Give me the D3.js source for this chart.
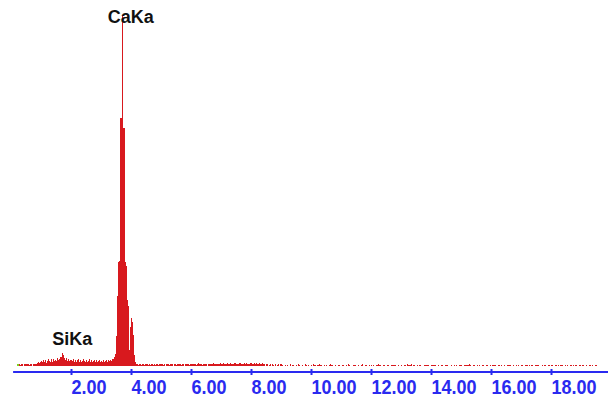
<!DOCTYPE html>
<html>
<head>
<meta charset="utf-8">
<script src="https://cdn.jsdelivr.net/npm/d3@7"></script>
<style>
  html, body { margin: 0; padding: 0; background: #ffffff; }
  svg { display: block; }
</style>
</head>
<body>
<svg id="chart" width="614" height="399"></svg>
<script>
// EDS spectrum: counts per channel, 30 channels per keV (one row per keV, 0–20 keV)
const channelsPerKeV = 30;
const counts = [
  // 0–1 keV
  0,0,0,0,0,0,0,18,20,15,22,18,0,20,22,18,25,20,15,22,18,0,20,25,22,18,35,40,30,45,
  // 1–2 keV (Si Ka)
  50,38,58,42,62,35,55,70,52,40,68,45,75,50,62,48,82,58,72,90,95,135,115,85,60,80,55,72,50,65,
  // 2–3 keV
  62,48,70,45,65,40,58,72,45,62,38,55,75,48,42,65,45,55,68,40,60,45,52,65,42,58,38,50,62,45,
  // 3–4 keV (Ca Ka)
  50,42,58,40,52,60,45,62,50,65,55,68,70,90,120,300,700,1040,1050,2480,2480,3510,2380,2380,1040,1000,660,600,160,390,
  // 4–5 keV (Ca Kb)
  480,440,310,110,40,25,20,15,22,18,12,20,25,15,18,22,20,12,18,15,25,20,15,18,12,22,20,15,18,20,
  // 5–6 keV
  18,22,15,20,0,18,25,20,15,22,18,20,0,22,18,15,25,20,18,22,15,20,18,0,22,20,18,25,15,20,
  // 6–7 keV
  22,18,20,25,18,15,22,28,20,18,22,15,20,25,18,22,0,20,18,25,22,20,28,18,22,20,25,18,22,28,
  // 7–8 keV
  25,20,28,22,18,25,30,22,20,28,25,18,22,30,28,20,25,22,28,32,25,20,22,28,25,30,22,20,25,28,
  // 8–9 keV
  28,22,25,30,22,28,25,20,28,22,25,28,20,22,0,18,20,0,15,18,0,20,15,0,18,0,15,20,0,18,
  // 9–10 keV
  18,15,0,0,15,0,15,0,0,18,0,15,15,0,0,15,0,18,15,0,0,15,0,0,18,15,0,15,0,0,
  // 10–11 keV
  15,0,18,15,15,0,15,15,18,15,15,0,0,15,0,15,0,0,15,18,15,15,0,0,15,0,0,15,15,0,
  // 11–12 keV
  0,15,15,0,0,15,0,18,15,0,0,0,15,15,15,0,0,15,0,0,15,18,0,0,15,15,0,0,15,0,
  // 12–13 keV
  15,0,15,0,0,15,15,18,15,15,0,0,15,15,0,0,15,15,0,0,15,15,15,15,15,0,0,15,0,0,
  // 13–14 keV
  15,0,0,15,15,0,18,15,15,15,18,0,15,15,0,0,15,0,15,15,0,0,0,15,15,15,15,15,0,0,
  // 14–15 keV
  15,15,15,15,15,0,0,15,0,0,15,15,0,0,15,15,15,0,0,0,15,0,0,15,0,15,0,0,15,15,
  // 15–16 keV
  15,0,0,15,15,15,15,15,18,15,0,0,15,15,0,0,15,0,15,0,0,15,15,0,0,15,15,0,0,15,
  // 16–17 keV
  0,15,15,15,15,0,0,15,15,0,15,0,0,15,0,0,15,15,15,15,0,0,15,0,0,15,0,15,0,0,
  // 17–18 keV
  15,15,0,0,15,15,15,0,15,0,15,15,0,0,15,15,15,15,0,0,0,15,0,15,15,0,0,15,15,0,
  // 18–19 keV
  15,15,0,0,15,15,0,15,0,15,15,15,0,0,15,0,15,0,0,15,15,0,15,0,15,15,0,0,15,15,
  // 19–20 keV
  0,15,15,0,0,15,0,0,15,15,0,15,0,0,15,15,0,0,0,0,0,0,0,0,0,0,0,0,0,0
];

// Axis ticks (keV)
const tickValues = [2, 4, 6, 8, 10, 12, 14, 16, 18];

// Identified lines: label and energy (keV)
const peakLabels = ["CaKa", "SiKa"];
const peakEnergies = [3.69, 1.74];

const svg = d3.select("#chart");

const x = d3.scaleLinear().domain([0, 20]).range([11, 611]);
const yMax = d3.max(counts);
const y = d3.scaleLinear().domain([0, yMax]).range([366, 15]);

const spectrum = counts.map((c, i) => ({ e0: i / channelsPerKeV, e1: (i + 1) / channelsPerKeV, c }));

// Spectrum channels
svg.append("g")
  .attr("shape-rendering", "crispEdges")
  .selectAll("rect")
  .data(spectrum.filter(d => d.c > 0))
  .join("rect")
  .attr("x", d => x(d.e0))
  .attr("width", d => x(d.e1) - x(d.e0))
  .attr("y", d => y(d.c))
  .attr("height", d => y(0) - y(d.c))
  .attr("fill", "#d8191e");

// Start-of-spectrum marker
svg.append("rect")
  .attr("x", x(0.2)).attr("y", y(0) - 2)
  .attr("width", 2).attr("height", 2)
  .attr("fill", "#7ed321");

// Energy axis
const axisY = 372;
const axis = d3.axisBottom(x)
  .tickValues(tickValues)
  .tickFormat(d3.format(".2f"))
  .tickSizeOuter(0);

const gAxis = svg.append("g")
  .attr("transform", `translate(0,${axisY})`)
  .call(axis);

gAxis.select(".domain").remove();
gAxis.insert("line", ":first-child")
  .attr("x1", x(0.07)).attr("x2", x(19.9))
  .attr("y1", 0).attr("y2", 0)
  .attr("stroke", "#2a2af0").attr("stroke-width", 2);

gAxis.selectAll(".tick line")
  .attr("y1", -3).attr("y2", 3)
  .attr("stroke", "#2a2af0").attr("stroke-width", 2);

gAxis.selectAll(".tick text")
  .attr("text-anchor", "start")
  .attr("x", 0)
  .attr("y", 0)
  .attr("dy", 0)
  .attr("transform", "translate(0,22) scale(1,1.15)")
  .attr("fill", "#2a2af0")
  .style("font-family", "'Liberation Sans', Arial, sans-serif")
  .style("font-size", "18px")
  .style("font-weight", "bold");

// Peak labels
const labelOffsets = [{ dx: -14, y: 23 }, { dx: -11, y: 345 }];
svg.append("g")
  .selectAll("text")
  .data(peakLabels)
  .join("text")
  .attr("x", (d, i) => x(peakEnergies[i]) + labelOffsets[i].dx)
  .attr("y", (d, i) => labelOffsets[i].y)
  .attr("fill", "#111111")
  .style("font-family", "'Liberation Sans', Arial, sans-serif")
  .style("font-size", "18px")
  .style("font-weight", "600")
  .text(d => d);
</script>
</body>
</html>
